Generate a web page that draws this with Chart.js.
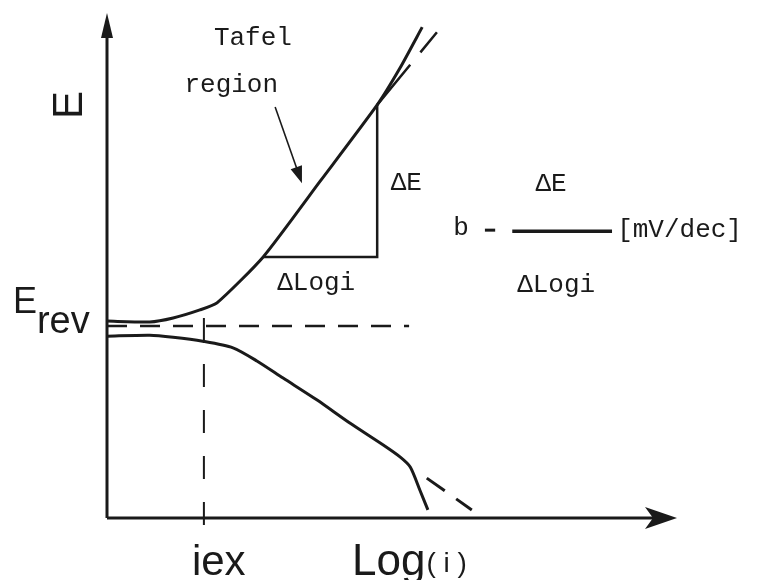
<!DOCTYPE html>
<html>
<head>
<meta charset="utf-8">
<script src="https://cdn.jsdelivr.net/npm/chart.js@4/dist/chart.umd.min.js"></script>
<style>
  html, body { margin: 0; padding: 0; background: #fff; }
  canvas { display: block; }
</style>
</head>
<body>
<canvas id="tafel" width="757" height="580"></canvas>
<script>
// polarisation curve, log(i) on x, potential E on y (arbitrary units)
var anodicLogI   = [0, 0.75, 1.16, 1.63, 1.93, 2.74, 3.74, 4.74, 5.14, 5.53];
var anodicE      = [3.90, 3.88, 3.96, 4.12, 4.26, 5.17, 6.67, 8.18, 8.91, 9.72];
var cathodicLogI = [0, 0.75, 1.16, 1.68, 2.21, 2.63, 3.09, 3.68, 4.26, 4.84, 5.14, 5.32, 5.49, 5.63];
var cathodicE    = [3.60, 3.62, 3.58, 3.50, 3.37, 3.11, 2.77, 2.34, 1.88, 1.45, 1.21, 1.01, 0.55, 0.16];

// straight Tafel extrapolations
var anodicFitLogI   = [4.74, 5.79];
var anodicFitE      = [8.18, 9.62];
var cathodicFitLogI = [5.61, 6.40];
var cathodicFitE    = [0.79, 0.16];

// slope triangle on the anodic branch
var triLogI = [2.74, 4.74, 4.74];
var triE    = [5.17, 5.17, 8.18];

var eRev   = 3.8;
var logIex = 1.7;
var axisMax = 10;

function pts(xs, ys) {
  return xs.map(function (x, i) { return { x: x, y: ys[i] }; });
}

var ink = '#1a1a1a';
var mono = '"Liberation Mono", "Courier New", monospace';
var sans = '"Liberation Sans", Arial, sans-serif';

// texts placed in data units
var notes = [
  { text: 'Tafel',    x: 2.56, y: 9.37, align: 'center' },
  { text: 'region',   x: 2.18, y: 8.44, align: 'center' },
  { text: 'ΔE',       x: 5.25, y: 6.50, align: 'center' },
  { text: 'ΔLogi',    x: 3.67, y: 4.51, align: 'center' },
  { text: 'ΔE',       x: 7.79, y: 6.48, align: 'center' },
  { text: 'b',        x: 6.21, y: 5.60, align: 'center' },
  { text: '[mV/dec]', x: 8.95, y: 5.56, align: 'left' },
  { text: 'ΔLogi',    x: 7.88, y: 4.48, align: 'center' }
];

function head(ctx, tipX, tipY, fromX, fromY, len, half, notch) {
  var a = Math.atan2(tipY - fromY, tipX - fromX);
  ctx.save();
  ctx.translate(tipX, tipY);
  ctx.rotate(a);
  ctx.beginPath();
  ctx.moveTo(0, 0);
  ctx.lineTo(-len, -half);
  ctx.lineTo(-len + notch, 0);
  ctx.lineTo(-len, half);
  ctx.closePath();
  ctx.fill();
  ctx.restore();
}

var decor = {
  id: 'decor',
  beforeDatasetsDraw: function (chart) {
    var ctx = chart.ctx, xs = chart.scales.x, ys = chart.scales.y;
    var x0 = xs.getPixelForValue(0), y0 = ys.getPixelForValue(0);
    var xEnd = xs.getPixelForValue(axisMax), yEnd = ys.getPixelForValue(axisMax);
    ctx.save();
    ctx.strokeStyle = ink;
    ctx.fillStyle = ink;
    ctx.lineWidth = 3;
    ctx.beginPath();
    ctx.moveTo(x0, y0);
    ctx.lineTo(x0, yEnd + 10);
    ctx.moveTo(x0, y0);
    ctx.lineTo(xEnd - 12, y0);
    ctx.stroke();
    head(ctx, x0, yEnd, x0, y0, 25, 6, 0);
    head(ctx, xEnd, y0, x0, y0, 32, 11, 8);
    ctx.restore();
  },
  afterDatasetsDraw: function (chart) {
    var ctx = chart.ctx, xs = chart.scales.x, ys = chart.scales.y;
    function px(v) { return xs.getPixelForValue(v); }
    function py(v) { return ys.getPixelForValue(v); }
    ctx.save();
    ctx.fillStyle = ink;
    ctx.strokeStyle = ink;

    // pointer to the Tafel region
    var ax1 = px(2.95), ay1 = py(8.14), ax2 = px(3.42), ay2 = py(6.63);
    ctx.lineWidth = 1.6;
    ctx.beginPath();
    ctx.moveTo(ax1, ay1);
    ctx.lineTo(ax2 - (ax2 - ax1) * 0.15, ay2 - (ay2 - ay1) * 0.15);
    ctx.stroke();
    head(ctx, ax2, ay2, ax1, ay1, 17, 6, 0);

    ctx.font = '26px ' + mono;
    ctx.textBaseline = 'alphabetic';
    notes.forEach(function (n) {
      ctx.textAlign = n.align;
      ctx.fillText(n.text, px(n.x), py(n.y));
    });

    // axis titles
    ctx.textAlign = 'center';
    ctx.textBaseline = 'middle';
    ctx.font = '42px ' + sans;
    ctx.save();
    ctx.translate(px(-0.65), py(8.18));
    ctx.rotate(-Math.PI / 2);
    ctx.fillText('E', 0, 0);
    ctx.restore();

    ctx.textAlign = 'left';
    ctx.textBaseline = 'alphabetic';
    ctx.font = '36px ' + sans;
    var ex = px(-1.65), ey = py(4.06);
    ctx.fillText('E', ex, ey);
    var ew = ctx.measureText('E').width;
    ctx.font = '38px ' + sans;
    ctx.fillText('rev', ex + ew, ey + 20);

    ctx.font = '42px ' + sans;
    ctx.fillText('iex', px(1.49), py(-1.13));

    ctx.font = '44px ' + sans;
    var lx = px(4.30), ly = py(-1.13);
    ctx.fillText('Log', lx, ly);
    var lw = ctx.measureText('Log').width;
    ctx.font = '28px ' + sans;
    ctx.fillText('( i )', lx + lw + 1, ly - 3);
    ctx.restore();
  }
};

function line(data, width, dash, tension) {
  return {
    data: data,
    showLine: true,
    borderColor: ink,
    borderWidth: width,
    borderDash: dash || [],
    tension: tension || 0,
    pointRadius: 0,
    fill: false,
    clip: false
  };
}

new Chart(document.getElementById('tafel').getContext('2d'), {
  type: 'scatter',
  data: {
    datasets: [
      line(pts(anodicLogI, anodicE), 3, null, 0.2),
      line(pts(cathodicLogI, cathodicE), 3, null, 0.25),
      line(pts(anodicFitLogI, anodicFitE), 2.5, [52, 16, 26, 200]),
      line(pts(cathodicFitLogI, cathodicFitE), 3, [22, 14]),
      line(pts([0, 5.3], [eRev, eRev]), 2.5, [20, 13]),
      line(pts([logIex, logIex], [3.96, -0.24]), 2, [23, 23]),
      line(pts(triLogI, triE), 2.5),
      line(pts([6.63, 6.81], [5.70, 5.70]), 3),
      line(pts([7.11, 8.86], [5.68, 5.68]), 3.5)
    ]
  },
  options: {
    responsive: false,
    animation: false,
    events: [],
    layout: { padding: { left: 107, right: 80, top: 13, bottom: 62 } },
    plugins: { legend: { display: false }, tooltip: { enabled: false } },
    scales: {
      x: { type: 'linear', min: 0, max: axisMax, display: false },
      y: { type: 'linear', min: 0, max: axisMax, display: false }
    }
  },
  plugins: [decor]
});
</script>
</body>
</html>
